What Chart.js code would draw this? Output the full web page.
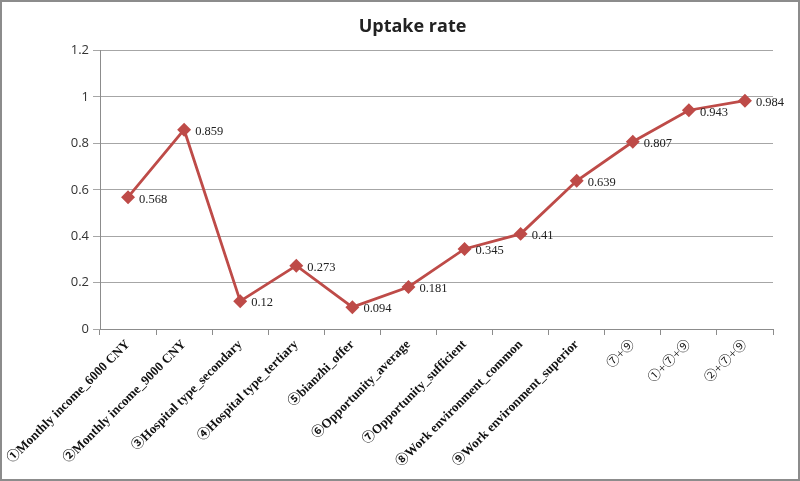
<!DOCTYPE html>
<html>
<head>
<meta charset="utf-8">
<script src="https://cdn.jsdelivr.net/npm/chart.js@4"></script>
<style>
  body { margin: 0; background: #fff; }
  #wrap { width: 800px; height: 481px; position: relative; }
</style>
</head>
<body>
<div id="wrap"><canvas id="graficoTaxa"></canvas></div>
<script>
const categorias = [
    "①Monthly income_6000 CNY",
    "②Monthly income_9000 CNY",
    "③Hospital type_secondary",
    "④Hospital type_tertiary",
    "⑤bianzhi_offer",
    "⑥Opportunity_average",
    "⑦Opportunity_sufficient",
    "⑧Work environment_common",
    "⑨Work environment_superior",
    "⑦+⑨",
    "①+⑦+⑨",
    "②+⑦+⑨",
];
const taxaAdesao = [0.568, 0.859, 0.12, 0.273, 0.094, 0.181, 0.345, 0.41, 0.639, 0.807, 0.943, 0.984];
const ticksY = [0, 0.2, 0.4, 0.6, 0.8, 1, 1.2];

const moldura = {
    id: "moldura",
    beforeDraw(grafico) {
        const ctx = grafico.ctx;
        ctx.save();
        ctx.fillStyle = "#fff";
        ctx.fillRect(0, 0, grafico.width, grafico.height);
        ctx.strokeStyle = "#8c8c8c";
        ctx.lineWidth = 2;
        ctx.strokeRect(1, 1, grafico.width - 2, grafico.height - 2);
        ctx.restore();
    },
};

const rotulosValor = {
    id: "rotulosValor",
    afterDatasetsDraw(grafico) {
        const ctx = grafico.ctx;
        const meta = grafico.getDatasetMeta(0);
        ctx.save();
        ctx.font = "12.5px 'Liberation Serif'";
        ctx.fillStyle = "#222";
        ctx.textAlign = "left";
        ctx.textBaseline = "middle";
        meta.data.forEach((ponto, i) => {
            ctx.fillText(String(taxaAdesao[i]), ponto.x + 11, ponto.y + 2);
        });
        ctx.restore();
    },
};

const canvasGrafico = document.getElementById("graficoTaxa");
const grafico = new Chart(canvasGrafico, {
    type: "line",
    data: {
        labels: categorias,
        datasets: [
            {
                label: "Uptake rate",
                data: taxaAdesao,
                borderColor: "#be4b48",
                backgroundColor: "#be4b48",
                borderWidth: 2.8,
                pointStyle: "rectRot",
                pointRadius: 5,
                pointHoverRadius: 5,
                tension: 0,
            },
        ],
    },
    options: {
        responsive: true,
        maintainAspectRatio: false,
        animation: false,
        layout: { padding: { left: 52, right: 27, top: 10, bottom: 0 } },
        plugins: {
            legend: { display: false },
            tooltip: { enabled: false },
            title: {
                display: true,
                text: "Uptake rate",
                font: { family: "'Open Sans'", size: 18, weight: "bold" },
                color: "#222",
                padding: { top: 6, bottom: 13 },
            },
        },
        scales: {
            x: {
                offset: true,
                afterFit: (s) => { s.height = 152; },
                grid: {
                    offset: true,
                    drawOnChartArea: false,
                    drawTicks: true,
                    tickLength: 6,
                    color: "#8c8c8c",
                },
                border: { color: "#8c8c8c", width: 1 },
                ticks: {
                    autoSkip: false,
                    minRotation: 45,
                    maxRotation: 45,
                    padding: 2,
                    color: "#111",
                    font: (c) => ({
                        family: "'Liberation Serif', 'Noto Sans CJK SC'",
                        size: 13,
                        weight: c.index >= 9 ? "normal" : "bold",
                    }),
                },
            },
            y: {
                min: 0,
                max: 1.2,
                afterFit: (s) => { s.width = 48; },
                afterBuildTicks: (s) => { s.ticks = ticksY.map((v) => ({ value: v })); },
                grid: { color: "#a6a6a6", tickLength: 7, lineWidth: 1 },
                border: { color: "#8c8c8c", width: 1 },
                ticks: {
                    color: "#333",
                    padding: 4,
                    font: { family: "'Open Sans'", size: 13 },
                    callback: (v) => String(Math.round(v * 10) / 10),
                },
            },
        },
    },
    plugins: [moldura, rotulosValor],
});
</script>
</body>
</html>
